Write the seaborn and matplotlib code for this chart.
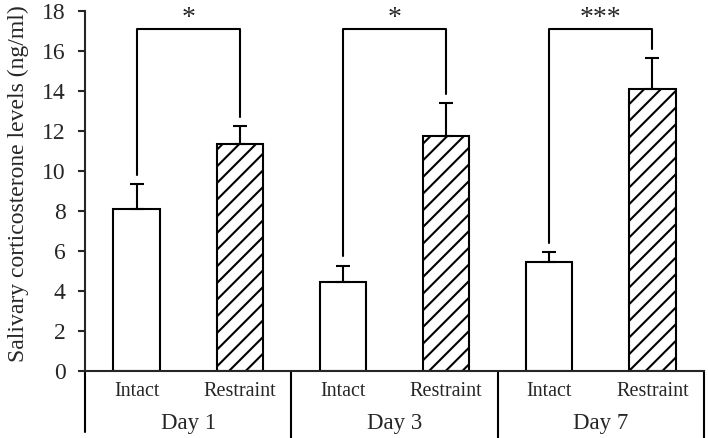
import numpy as np
import pandas as pd
import seaborn as sns
import matplotlib
matplotlib.use("Agg")
from matplotlib import pyplot as plt
from matplotlib.transforms import blended_transform_factory

# values
days = ["Day 1", "Day 3", "Day 7"]
groups = ["Intact", "Restraint"]
intact_mean = [8.1, 4.45, 5.45]
intact_sem = [1.25, 0.82, 0.48]
restraint_mean = [11.35, 11.75, 14.1]
restraint_sem = [0.9, 1.65, 1.55]
stars = ["*", "*", "***"]

sns.set_style("ticks")
plt.rcParams["font.family"] = ["Liberation Serif", "DejaVu Serif"]
plt.rcParams["hatch.linewidth"] = 1.5

rows = []
for d, im, ise, rm, rse in zip(days, intact_mean, intact_sem, restraint_mean, restraint_sem):
    rows.append({"bar": f"{d} Intact", "day": d, "group": "Intact", "mean": im, "sem": ise})
    rows.append({"bar": f"{d} Restraint", "day": d, "group": "Restraint", "mean": rm, "sem": rse})
df = pd.DataFrame(rows)

fig = plt.figure(figsize=(7.08, 4.38), dpi=100)
ax = fig.add_axes([85 / 708, 67 / 438, 619 / 708, 360 / 438])

sns.barplot(
    data=df,
    x="bar",
    y="mean",
    order=df["bar"].tolist(),
    color="white",
    saturation=1,
    edgecolor="black",
    linewidth=1.5,
    width=0.45,
    errorbar=None,
    ax=ax,
)

for i, patch in enumerate(ax.patches):
    if df["group"].iloc[i] == "Restraint":
        patch.set_hatch("//")

xpos = np.arange(len(df))
ax.errorbar(
    xpos,
    df["mean"],
    yerr=[np.zeros(len(df)), df["sem"]],
    fmt="none",
    ecolor="black",
    elinewidth=1.5,
    capsize=5,
    capthick=1.5,
)

# significance brackets
bracket_y = 17.1
for k, s in enumerate(stars):
    i0, i1 = 2 * k, 2 * k + 1
    y0 = df["mean"].iloc[i0] + df["sem"].iloc[i0] + 0.47
    y1 = df["mean"].iloc[i1] + df["sem"].iloc[i1] + 0.47
    ax.plot([i0, i0, i1, i1], [y0, bracket_y, bracket_y, y1], color="black", lw=1.5)
    ax.text((i0 + i1) / 2, bracket_y - 0.12, s, ha="center", va="bottom", fontsize=20)

ax.set_xlim(-0.5, 5.5)
ax.set_ylim(0, 18)
ax.set_yticks(np.arange(0, 19, 2))
ax.set_xticks(xpos)
ax.set_xticklabels(groups * 3, fontsize=14.5)
ax.tick_params(axis="x", length=0, pad=8)
ax.tick_params(axis="y", direction="out", length=5, width=1.5, pad=9, labelsize=17)
ax.set_xlabel("")
ax.set_ylabel("Salivary corticosterone levels (ng/ml)", fontsize=17)
ax.yaxis.set_label_coords(-0.09, 0.52)

for side in ["top", "right"]:
    ax.spines[side].set_visible(False)
ax.spines["left"].set_linewidth(1.5)
ax.spines["bottom"].set_linewidth(1.5)

# extended y axis and day separators below the axis
trans = blended_transform_factory(ax.transData, ax.transAxes)
ax.plot([0, 0], [0, -0.17], transform=ax.transAxes, color="black", lw=1.5, clip_on=False)
for sep in [1.5, 3.5, 5.5]:
    ax.plot([sep, sep], [0, -0.185], transform=trans, color="black", lw=1.5, clip_on=False)
for k, d in enumerate(days):
    ax.text(2 * k + 0.5, -0.145, d, transform=trans, ha="center", va="center", fontsize=16.5)

fig.savefig("out.png", dpi=100)
